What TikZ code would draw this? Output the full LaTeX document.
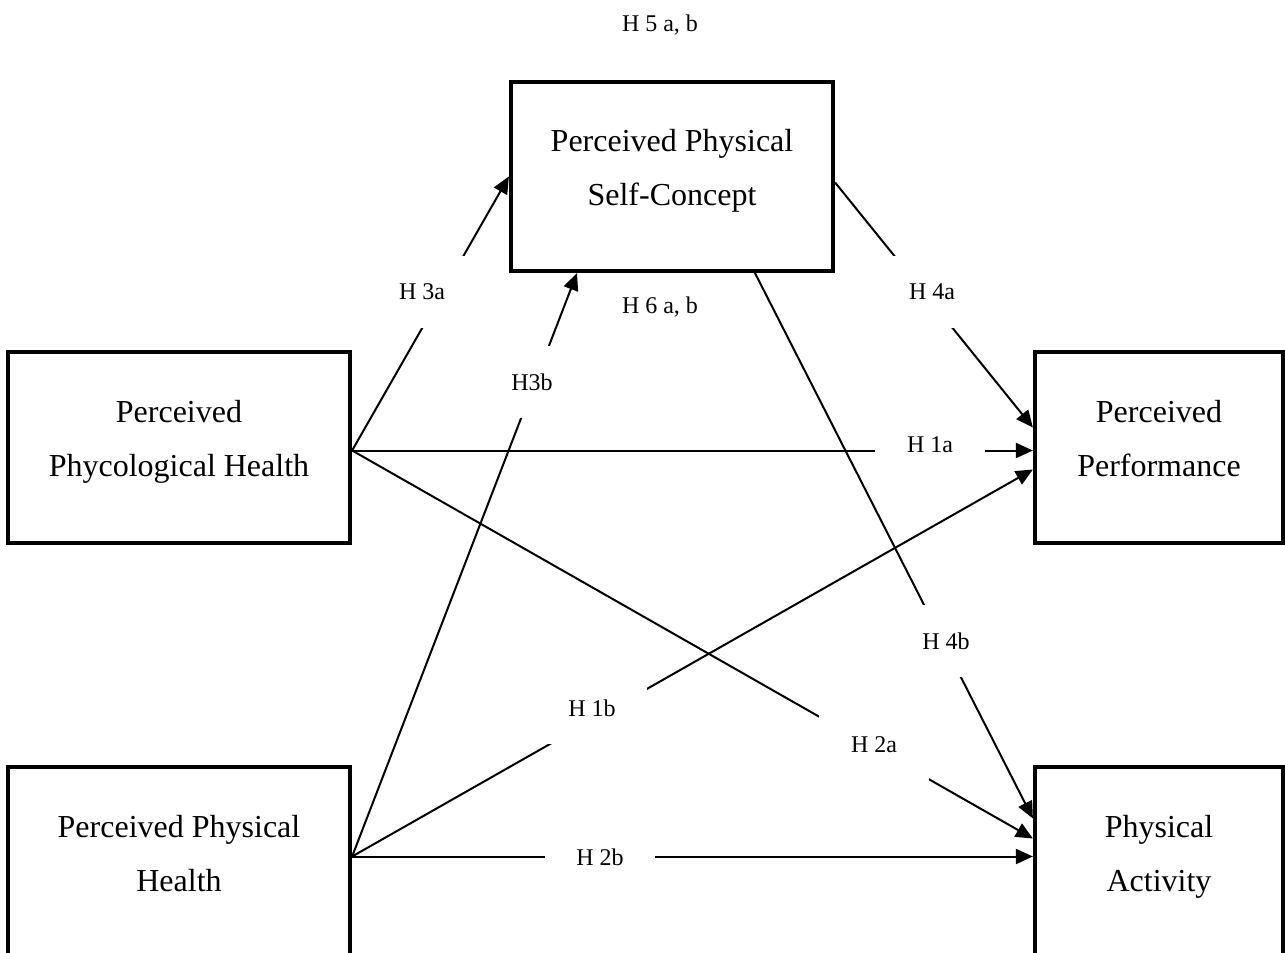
\documentclass[tikz,border=0pt]{standalone}
\usepackage{fontspec}
\setmainfont{Liberation Serif}
\usetikzlibrary{%
  arrows.meta,%
  positioning,%
  calc%
}

\begin{document}
\begin{tikzpicture}
  [
  x=0.5pt, y=-0.5pt,
  line width=1pt,
  draw=black, >={Triangle[length=8.5pt,width=7.5pt]},
  varbox/.style={rectangle, draw=black, line width=2.1pt, align=center,
    inner sep=0pt, text depth=9pt, font=\fontsize{16}{27}\selectfont},
  hlabel/.style={fill=white, inner sep=0pt, minimum width=55pt,
    minimum height=36pt, font=\fontsize{12}{14}\selectfont},
  hnote/.style={font=\fontsize{12}{14}\selectfont},
  ]

\useasboundingbox (0,0) rectangle (1285,953);

% variables
\node[varbox, minimum width=161pt, minimum height=94.5pt] (self) at (672,176.5)
  {Perceived Physical\\Self-Concept};
\node[varbox, minimum width=171pt, minimum height=95.5pt] (psych) at (179,447.5)
  {Perceived\\Phycological Health};
\node[varbox, minimum width=124pt, minimum height=95.5pt] (perf) at (1159,447.5)
  {Perceived\\Performance};
\node[varbox, minimum width=171pt, minimum height=95.5pt] (phys) at (179,862.5)
  {Perceived Physical\\Health};
\node[varbox, minimum width=124pt, minimum height=95.5pt] (act) at (1159,862.5)
  {Physical\\Activity};

\coordinate (psyout) at ([yshift=-1.5pt]psych.east);
\coordinate (phyout) at ([yshift=3pt]phys.east);

% paths
\draw[->] (psyout) -- (self.west);
\draw[->] (phyout) -- ([xshift=-47.5pt]self.south);
\draw[->] ([yshift=-3pt]self.east) -- ([yshift=10pt]perf.west);
\draw[->] ([xshift=41.5pt]self.south) -- ([yshift=22pt]act.west);
\draw[->] (psyout) -- ([yshift=-1.5pt]perf.west);
\draw[->] (phyout) -- ([yshift=-11pt]perf.west);
\draw[->] (psyout) -- ([yshift=12pt]act.west);
\draw[->] (phyout) -- ([yshift=3pt]act.west);

% hypotheses
\node[hlabel] (h3a) at (422,292) {H 3a};
\node[hlabel] (h3b) at (532,382) {H3b};
\node[hlabel] (h4a) at (932,292) {H 4a};
\node[hlabel] (h1a) at (930,445) {H 1a};
\node[hlabel] (h4b) at (946,641) {H 4b};
\node[hlabel] (h1b) at (592,708) {H 1b};
\node[hlabel] (h2a) at (874,745) {H 2a};
\node[hlabel] (h2b) at (600,857) {H 2b};
\node[hnote] (h6) at (660,307) {H 6 a, b};
\node[hnote] (h5) at (660,25) {H 5 a, b};
\end{tikzpicture}
\end{document}
